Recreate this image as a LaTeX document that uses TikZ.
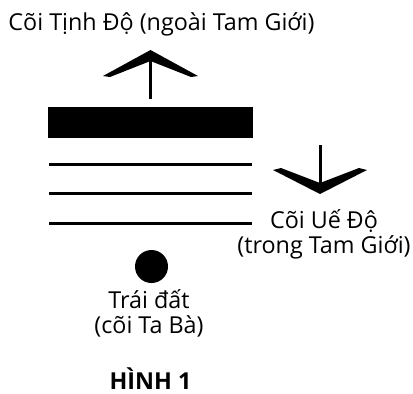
\documentclass[tikz,border=0pt]{standalone}
\usepackage{fontspec}
\setmainfont{Open Sans}
\usetikzlibrary{positioning}

\begin{document}
\begin{tikzpicture}[x=0.75pt,y=-0.75pt,
    every node/.style={font=\fontsize{17.5}{18.75}\selectfont,align=center,inner sep=0pt},
    layer/.style={line width=2.25pt},
    shaft/.style={line width=2.25pt}]
\useasboundingbox (0,0) rectangle (413,393);
% heading
\node [anchor=base] (tinhdo) at (161.5,30) {Cõi Tịnh Độ (ngoài Tam Giới)};
% pure land above
\fill (48,107) rectangle (253,138);
\coordinate (up_s) at (150.5,99);
\coordinate (up_e) at (150.5,56);
\draw [shaft] (up_s) -- (up_e);
\fill (150.5,50) -- (198,76) -- (191,77) -- (150.5,61) -- (110,77) -- (103,76) -- cycle;
% three realms
\foreach \y in {164,193,223}
    \draw [layer] (49,\y) -- (252,\y);
\coordinate (dn_s) at (320,145);
\coordinate (dn_e) at (320,186);
\draw [shaft] (dn_s) -- (dn_e);
\fill (320,194) -- (367,170) -- (359,168) -- (320,183) -- (281,168) -- (273,170) -- cycle;
\node [anchor=base] (uedo) at (324,253) {Cõi Uế Độ\\(trong Tam Giới)};
% earth
\node [circle, fill, minimum size=24.75pt] (earth) at (151.5,266.5) {};
\node [anchor=base] (taba) at (149,333) {Trái đất\\(cõi Ta Bà)};
\node [anchor=base, font=\fontsize{17.5}{18.75}\selectfont\bfseries] (hinh) at (150.5,389) {HÌNH 1};
\end{tikzpicture}
\end{document}
